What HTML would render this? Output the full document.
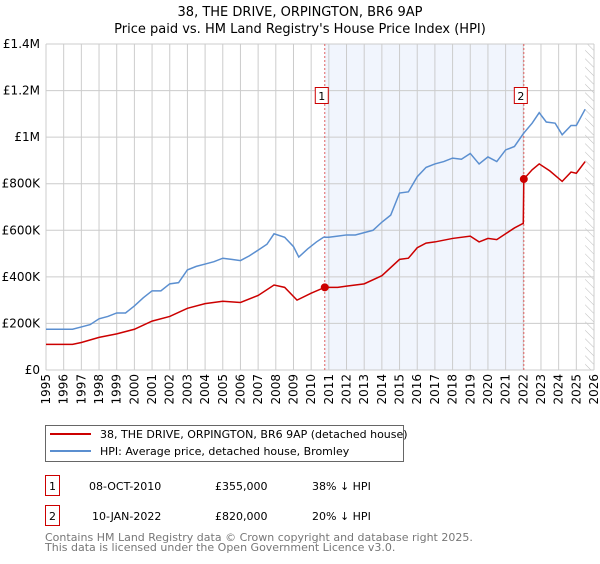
<!DOCTYPE html>
<html><head><meta charset="utf-8"><style>
body{margin:0;background:#fff;font-family:"DejaVu Sans","Liberation Sans",sans-serif;}
svg text{font-family:"DejaVu Sans","Liberation Sans",sans-serif;}
</style></head><body>
<svg id="c" width="600" height="560" xmlns="http://www.w3.org/2000/svg">
<defs><pattern id="hatch" width="6" height="6" patternUnits="userSpaceOnUse" patternTransform="rotate(-45)"><line x1="0" y1="0" x2="0" y2="6" stroke="#bbb" stroke-width="1"/></pattern></defs>
<text x="300" y="16" text-anchor="middle" font-size="13">38, THE DRIVE, ORPINGTON, BR6 9AP</text>
<text x="300" y="33" text-anchor="middle" font-size="13">Price paid vs. HM Land Registry's House Price Index (HPI)</text>
<g id="plot"></g>
<g>
<rect x="45.5" y="425.5" width="358" height="36" fill="#fff" stroke="#666"/>
<line x1="50" y1="434" x2="91" y2="434" stroke="#cc0000" stroke-width="2"/>
<text x="100" y="438" font-size="11">38, THE DRIVE, ORPINGTON, BR6 9AP (detached house)</text>
<line x1="50" y1="451" x2="91" y2="451" stroke="#5b8fd0" stroke-width="2"/>
<text x="100" y="455" font-size="11">HPI: Average price, detached house, Bromley</text>
</g>
<g font-size="11">
<rect x="45.5" y="475.5" width="14" height="20" fill="#fff" stroke="#cc0000"/>
<text x="52.5" y="490" text-anchor="middle">1</text>
<text x="89" y="490">08-OCT-2010</text><text x="215" y="490">£355,000</text><text x="312" y="490">38% ↓ HPI</text>
<rect x="45.5" y="505.5" width="14" height="20" fill="#fff" stroke="#cc0000"/>
<text x="52.5" y="520" text-anchor="middle">2</text>
<text x="92" y="520">10-JAN-2022</text><text x="215" y="520">£820,000</text><text x="312" y="520">20% ↓ HPI</text>
</g>
<text x="45" y="541" font-size="11" fill="#777">Contains HM Land Registry data © Crown copyright and database right 2025.</text>
<text x="45" y="551" font-size="11" fill="#777">This data is licensed under the Open Government Licence v3.0.</text>
</svg>
<script>
const hpiYears=[1995,1996,1996.5,1997,1997.5,1998,1998.5,1999,1999.5,2000,2000.5,2001,2001.5,2002,2002.5,2003,2003.5,2004,2004.5,2005,2005.5,2006,2006.5,2007,2007.5,2007.9,2008.5,2009,2009.3,2009.8,2010.3,2010.7,2011,2011.5,2012,2012.5,2013,2013.5,2014,2014.5,2015,2015.5,2016,2016.5,2017,2017.5,2018,2018.5,2019,2019.5,2020,2020.5,2021,2021.5,2022,2022.5,2022.9,2023.3,2023.8,2024.2,2024.7,2025,2025.5];
const hpiValues=[175,175,175,185,195,220,230,245,245,275,310,340,340,370,375,430,445,455,465,480,475,470,490,515,540,585,570,530,485,520,550,570,570,575,580,580,590,600,635,665,760,765,830,870,885,895,910,905,930,885,915,895,945,960,1015,1060,1105,1065,1060,1010,1050,1050,1120];
const priceYears=[1995,1996.5,1997,1998,1999,2000,2001,2002,2003,2004,2005,2006,2007,2007.9,2008.5,2009.2,2010,2010.77,2011.5,2012,2013,2014,2015,2015.5,2016,2016.5,2017,2018,2019,2019.5,2020,2020.5,2021,2021.5,2022.0,2022.03,2022.5,2022.9,2023.5,2024.2,2024.7,2025,2025.5];
const priceValues=[110,110,118,140,155,175,210,230,265,285,295,290,320,365,355,300,330,355,355,360,370,405,475,480,525,545,550,565,575,550,565,560,585,610,630,820,860,885,855,810,850,845,895];
const saleYears=[2010.77,2022.03];
const saleValues=[355,820];
const saleLabels=["1","2"];
const yTicks=[0,200,400,600,800,1000,1200,1400];
const yTickLabels=["£0","£200K","£400K","£600K","£800K","£1M","£1.2M","£1.4M"];
const xTicks=[];for(let y=1995;y<=2026;y++)xTicks.push(y);

const L=46,R=594,T=44,B=370;
const X=v=>L+(v-1995)/(2026-1995)*(R-L);
const Y=v=>B-v/1400*(B-T);
const NS="http://www.w3.org/2000/svg";
const g=document.getElementById('plot');
function mk(tag,attrs,parent){const e=document.createElementNS(NS,tag);for(const k in attrs)e.setAttribute(k,attrs[k]);(parent||g).appendChild(e);return e;}

let e=mk('rect',{x:X(saleYears[0]),y:T,width:X(saleYears[1])-X(saleYears[0]),height:B-T,fill:'#eef3fc',opacity:0.8});


e=mk('rect',{x:X(2025.5),y:T,width:R-X(2025.5),height:B-T,fill:'url(#hatch)'});


xTicks.forEach(t=>{
 const l=mk('line',{x1:X(t),x2:X(t),y1:T,y2:B,stroke:'#ccc','stroke-width':1});
 
 
 const tx=mk('text',{x:0,y:0,'font-size':12,'text-anchor':'end',transform:`translate(${X(t)+4},374) rotate(-90)`});
 tx.textContent=t;
 
 
});
yTicks.forEach((t,i)=>{
 const l=mk('line',{x1:L,x2:R,y1:Y(t),y2:Y(t),stroke:'#ccc','stroke-width':1});
 
 
 const tx=mk('text',{x:40,y:Y(t)+4,'font-size':12,'text-anchor':'end'});
 tx.textContent=yTickLabels[i];
 
 
});
saleYears.forEach((s,i)=>{
 const l=mk('line',{x1:X(s),x2:X(s),y1:T,y2:B,stroke:'#e06060','stroke-width':1,'stroke-dasharray':'2,2'});
 
 
 const r=mk('rect',{x:X(s)-9.5,y:87.5,width:13,height:16,fill:'#fff',stroke:'#cc0000'});
 
 
 const tx=mk('text',{x:X(s)-3,y:100,'font-size':11,'text-anchor':'middle'});
 tx.textContent=saleLabels[i];
 
 
});
const hp=mk('polyline',{points:hpiYears.map((y,i)=>X(y)+','+Y(hpiValues[i])).join(' '),fill:'none',stroke:'#5b8fd0','stroke-width':1.5});


const pp=mk('polyline',{points:priceYears.map((y,i)=>X(y)+','+Y(priceValues[i])).join(' '),fill:'none',stroke:'#cc0000','stroke-width':1.5});


saleYears.forEach((s,i)=>{
 const c=mk('circle',{cx:X(s),cy:Y(saleValues[i]),r:4,fill:'#cc0000'});
 
 
});
</script>
</body></html>
